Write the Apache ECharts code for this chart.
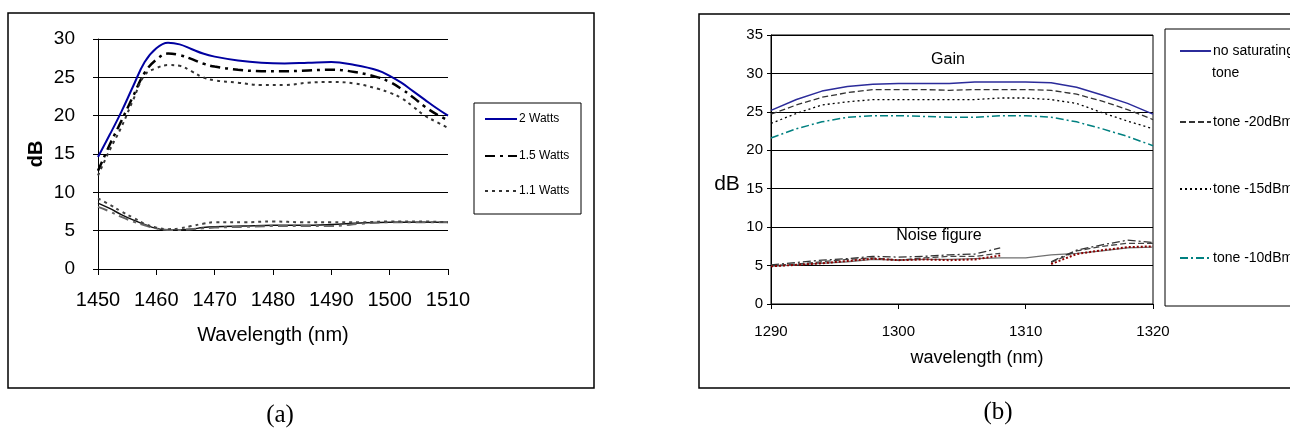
<!DOCTYPE html>
<html>
<head>
<meta charset="utf-8">
<script src="https://cdn.jsdelivr.net/npm/echarts@6/dist/echarts.min.js"></script>
<style>
  html, body { margin: 0; padding: 0; background: #fff; }
  #chart { width: 1290px; height: 431px; }
</style>
</head>
<body>
<div id="chart"></div>
<script>
// (a) gain and noise figure vs pump power
const wlA = [1450, 1452, 1454, 1456, 1458, 1460, 1462, 1464, 1466, 1468, 1470, 1474, 1478, 1482, 1486, 1490, 1494, 1498, 1500, 1502, 1504, 1506, 1508, 1510];
const gain2W  = [14.6, 17.5, 20.5, 23.8, 27.0, 28.8, 29.5, 29.3, 28.7, 28.1, 27.7, 27.2, 26.9, 26.8, 26.9, 27.0, 26.6, 25.9, 25.2, 24.3, 23.2, 22.1, 21.0, 20.0];
const gain15W = [12.8, 16.2, 19.3, 22.5, 25.6, 27.3, 28.1, 27.9, 27.4, 26.8, 26.4, 26.0, 25.8, 25.8, 25.9, 26.0, 25.7, 25.0, 24.4, 23.5, 22.4, 21.2, 20.2, 19.4];
const gain11W = [12.2, 15.5, 18.5, 22.0, 25.3, 26.2, 26.6, 26.5, 25.8, 25.0, 24.6, 24.3, 24.0, 24.0, 24.3, 24.4, 24.2, 23.5, 23.0, 22.3, 21.2, 20.0, 19.2, 18.4];

const wlNfA = [1450, 1452, 1454, 1456, 1458, 1460, 1462, 1464, 1466, 1468, 1470, 1475, 1480, 1485, 1490, 1495, 1500, 1505, 1510];
const nf2W  = [8.6, 7.9, 7.1, 6.4, 5.8, 5.3, 5.1, 5.1, 5.2, 5.4, 5.5, 5.6, 5.7, 5.7, 5.8, 6.0, 6.1, 6.1, 6.1];
const nf15W = [8.1, 7.5, 6.8, 6.2, 5.7, 5.3, 5.1, 5.1, 5.2, 5.3, 5.4, 5.5, 5.6, 5.6, 5.6, 5.9, 6.1, 6.1, 6.1];
const nf11W = [9.2, 8.4, 7.5, 6.7, 5.9, 5.4, 5.2, 5.3, 5.6, 5.9, 6.1, 6.1, 6.2, 6.1, 6.1, 6.1, 6.2, 6.2, 6.1];

// (b) gain and noise figure vs saturating tone
const wlB = [1290, 1292, 1294, 1296, 1298, 1300, 1302, 1304, 1306, 1308, 1310, 1312, 1314, 1316, 1318, 1320];
const gainNoTone = [25.2, 26.6, 27.7, 28.3, 28.6, 28.7, 28.7, 28.7, 28.9, 28.9, 28.9, 28.8, 28.2, 27.2, 26.1, 24.7];
const gainTone20 = [24.7, 25.9, 26.9, 27.5, 27.9, 27.9, 27.9, 27.8, 27.9, 27.9, 27.9, 27.8, 27.3, 26.4, 25.3, 24.0];
const gainTone15 = [23.5, 24.8, 25.9, 26.3, 26.6, 26.6, 26.6, 26.6, 26.6, 26.8, 26.8, 26.6, 26.1, 24.9, 23.8, 22.8];
const gainTone10 = [21.6, 22.8, 23.7, 24.3, 24.5, 24.5, 24.4, 24.3, 24.3, 24.5, 24.5, 24.3, 23.7, 22.8, 21.8, 20.6];
const nfNoTone = [4.9, 5.1, 5.3, 5.5, 5.8, 5.7, 5.8, 5.8, 5.9, 6.0, 6.0, 6.4, 6.6, 6.9, 7.3, 7.4];
const nfTone20 = [5.0, 5.2, 5.5, 5.8, 6.0, 5.7, 6.0, 6.2, 6.2, 6.6, null, 5.4, 6.9, 7.5, 7.9, 7.9];
const nfTone15 = [4.9, 5.1, 5.3, 5.6, 5.9, 5.7, 5.8, 5.7, 5.8, 6.3, null, 5.2, 6.5, 7.0, 7.4, 7.5];
const nfTone10 = [5.1, 5.4, 5.7, 5.9, 6.2, 6.1, 6.2, 6.4, 6.5, 7.3, null, 5.5, 7.0, 7.7, 8.3, 8.0];

const SANS = "'Liberation Sans', Arial, sans-serif";

const pairs = (xs, ys) => xs.map((x, i) => [x, ys[i] == null ? '-' : ys[i]]);
const plain = v => String(v);

function lineSeries(name, xIdx, xs, ys, color, width, type, smooth) {
  return {
    name: name,
    type: 'line',
    xAxisIndex: xIdx,
    yAxisIndex: xIdx,
    data: pairs(xs, ys),
    symbol: 'none',
    smooth: smooth,
    connectNulls: false,
    lineStyle: { color: color, width: width, type: type },
    itemStyle: { color: color },
    emphasis: { disabled: true },
    silent: true
  };
}

function oneLegend(name, left, top, w, size) {
  return {
    data: [name],
    left: left,
    top: top,
    orient: 'vertical',
    padding: 0,
    itemWidth: w,
    itemHeight: 20,
    selectedMode: false,
    itemStyle: { opacity: 0 },
    textStyle: { color: '#000', fontSize: size, fontFamily: SANS, padding: [0, 0, 0, -3] }
  };
}

const chart = echarts.init(document.getElementById('chart'), null, { renderer: 'canvas' });

const option = {
  animation: false,
  backgroundColor: '#fff',
  grid: [
    { left: 98, top: 39, width: 350, height: 230, show: false },
    { left: 771, top: 35, width: 382, height: 269, show: true, borderColor: '#000', borderWidth: 1, backgroundColor: 'transparent' }
  ],
  xAxis: [
    {
      gridIndex: 0, type: 'value', min: 1450, max: 1510, interval: 10,
      name: 'Wavelength (nm)', nameLocation: 'middle', nameGap: 56,
      nameTextStyle: { fontSize: 20, fontFamily: SANS, color: '#000' },
      axisLine: { lineStyle: { color: '#000', width: 1 } },
      axisTick: { length: 6, lineStyle: { color: '#000' } },
      axisLabel: { fontSize: 20, fontFamily: SANS, color: '#000', margin: 21, formatter: plain },
      splitLine: { show: false }
    },
    {
      gridIndex: 1, type: 'value', min: 1290, max: 1320, interval: 10,
      name: 'wavelength (nm)', nameLocation: 'middle', nameGap: 45,
      nameTextStyle: { fontSize: 18, fontFamily: SANS, color: '#000', padding: [0, 0, 0, 30] },
      axisLine: { lineStyle: { color: '#000', width: 1 } },
      axisTick: { length: 5, lineStyle: { color: '#000' } },
      axisLabel: { fontSize: 15, fontFamily: SANS, color: '#000', margin: 20, formatter: plain },
      splitLine: { show: false }
    }
  ],
  yAxis: [
    {
      gridIndex: 0, type: 'value', min: 0, max: 30, interval: 5,
      name: 'dB', nameLocation: 'middle', nameGap: 52, nameRotate: 90,
      nameTextStyle: { fontSize: 20, fontWeight: 'bold', fontFamily: SANS, color: '#000' },
      axisLine: { show: true, lineStyle: { color: '#000', width: 1 } },
      axisTick: { show: true, length: 5, lineStyle: { color: '#000' } },
      axisLabel: { fontSize: 19, fontFamily: SANS, color: '#000', margin: 23 },
      splitLine: { show: true, lineStyle: { color: '#000', width: 1 } }
    },
    {
      gridIndex: 1, type: 'value', min: 0, max: 35, interval: 5,
      axisLine: { show: true, lineStyle: { color: '#000', width: 1 } },
      axisTick: { show: true, length: 4, lineStyle: { color: '#000' } },
      axisLabel: { fontSize: 15, fontFamily: SANS, color: '#000', margin: 8 },
      splitLine: { show: true, lineStyle: { color: '#000', width: 1 } }
    }
  ],
  legend: [
    oneLegend('2 Watts', 484, 111, 32, 12),
    oneLegend('1.5 Watts', 484, 148, 32, 12),
    oneLegend('1.1 Watts', 484, 183, 32, 12),
    oneLegend('no saturating tone', 1179, 43, 31, 14),
    oneLegend('tone -20dBm', 1179, 114, 31, 14),
    oneLegend('tone -15dBm', 1179, 181, 31, 14),
    oneLegend('tone -10dBm', 1179, 250, 31, 14)
  ],
  series: [
    lineSeries('2 Watts', 0, wlA, gain2W, '#0000a0', 2, 'solid', 0.4),
    lineSeries('1.5 Watts', 0, wlA, gain15W, '#000', 2.5, [10, 5, 3, 5], 0.4),
    lineSeries('1.1 Watts', 0, wlA, gain11W, '#333', 2, [3, 4], 0.4),
    lineSeries('NF 2 Watts', 0, wlNfA, nf2W, '#111', 1.5, 'solid', 0.4),
    lineSeries('NF 1.5 Watts', 0, wlNfA, nf15W, '#666', 2, [10, 5, 3, 5], 0.4),
    lineSeries('NF 1.1 Watts', 0, wlNfA, nf11W, '#444', 2, [3, 4], 0.4),

    lineSeries('no saturating tone', 1, wlB, gainNoTone, '#2b2b9a', 1.5, 'solid', false),
    lineSeries('tone -20dBm', 1, wlB, gainTone20, '#333', 1.3, [6, 3], false),
    lineSeries('tone -15dBm', 1, wlB, gainTone15, '#000', 1.3, [2, 3], false),
    lineSeries('tone -10dBm', 1, wlB, gainTone10, '#008080', 1.5, [8, 3, 2, 3], false),
    lineSeries('NF no tone', 1, wlB, nfNoTone, '#707070', 1.3, 'solid', false),
    lineSeries('NF -20dBm', 1, wlB, nfTone20, '#444', 1.3, [6, 3], false),
    lineSeries('NF -15dBm', 1, wlB, nfTone15, '#8b0000', 2, [2, 2], false),
    lineSeries('NF -10dBm', 1, wlB, nfTone10, '#333', 1.3, [8, 3, 2, 3], false)
  ],
  graphic: [
    { type: 'rect', shape: { x: 8, y: 13, width: 586, height: 375 }, style: { fill: 'none', stroke: '#000', lineWidth: 1.5 }, z: -1 },
    { type: 'rect', shape: { x: 474, y: 103, width: 107, height: 111 }, style: { fill: 'none', stroke: '#000', lineWidth: 1 }, z: -1 },
    { type: 'rect', shape: { x: 699, y: 14, width: 620, height: 374 }, style: { fill: 'none', stroke: '#000', lineWidth: 1.5 }, z: -1 },
    { type: 'rect', shape: { x: 1165, y: 29, width: 150, height: 277 }, style: { fill: 'none', stroke: '#000', lineWidth: 1 }, z: -1 },
    { type: 'text', x: 1212, y: 73, style: { text: 'tone', font: '14px ' + SANS, fill: '#000', textVerticalAlign: 'middle' } },
    { type: 'text', x: 948, y: 60, style: { text: 'Gain', font: '16px ' + SANS, fill: '#000', textAlign: 'center', textVerticalAlign: 'middle' } },
    { type: 'text', x: 939, y: 236, style: { text: 'Noise figure', font: '16px ' + SANS, fill: '#000', textAlign: 'center', textVerticalAlign: 'middle' } },
    { type: 'text', x: 727, y: 184, style: { text: 'dB', font: '21px ' + SANS, fill: '#000', textAlign: 'center', textVerticalAlign: 'middle' } },
    { type: 'text', x: 280, y: 415, style: { text: '(a)', font: '25px "Liberation Serif", serif', fill: '#000', textAlign: 'center', textVerticalAlign: 'middle' } },
    { type: 'text', x: 998, y: 412, style: { text: '(b)', font: '25px "Liberation Serif", serif', fill: '#000', textAlign: 'center', textVerticalAlign: 'middle' } }
  ]
};

chart.setOption(option);
</script>
</body>
</html>
